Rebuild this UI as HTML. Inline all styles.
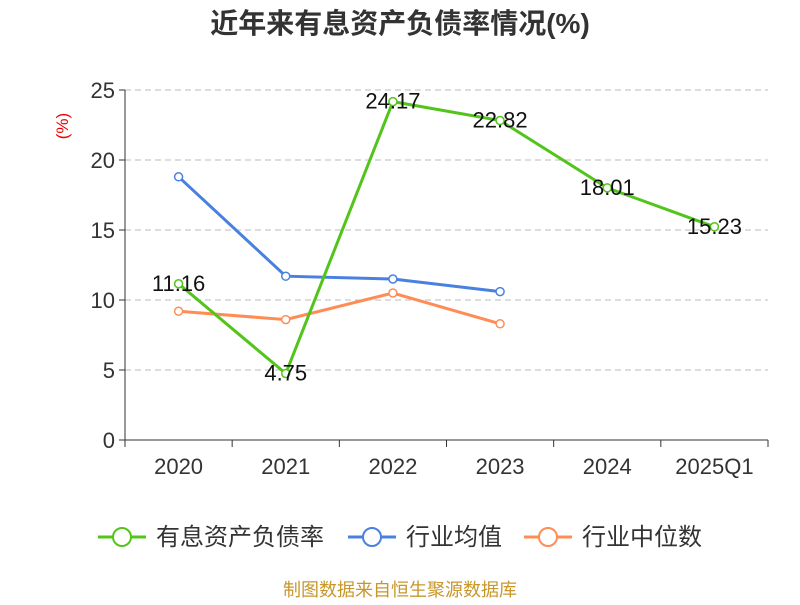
<!DOCTYPE html>
<html><head><meta charset="utf-8"><style>
body{margin:0;background:#fff;font-family:"Liberation Sans","Noto Sans CJK SC",sans-serif}
</style></head><body>
<svg width="800" height="600" xmlns="http://www.w3.org/2000/svg" font-family="Liberation Sans, Noto Sans CJK SC, sans-serif">
<text x="400" y="33" text-anchor="middle" font-size="28" font-weight="bold" fill="#333">近年来有息资产负债率情况(%)</text>
<text x="68" y="126" text-anchor="middle" font-size="17" fill="#e00" transform="rotate(-90 68 126)">(%)</text>
<g id="grid"></g><g id="axes"></g><g id="series"></g>
<g font-size="24" fill="#333">
<g><line x1="98" y1="537" x2="146" y2="537" stroke="#52c41a" stroke-width="3"/><circle cx="122" cy="537" r="9" fill="#fff" stroke="#52c41a" stroke-width="2"/><text x="156" y="545">有息资产负债率</text></g>
<g><line x1="348" y1="537" x2="396" y2="537" stroke="#4a80e0" stroke-width="3"/><circle cx="372" cy="537" r="9" fill="#fff" stroke="#4a80e0" stroke-width="2"/><text x="406" y="545">行业均值</text></g>
<g><line x1="524" y1="537" x2="572" y2="537" stroke="#ff8c55" stroke-width="3"/><circle cx="548" cy="537" r="9" fill="#fff" stroke="#ff8c55" stroke-width="2"/><text x="582" y="545">行业中位数</text></g>
</g>
<text x="400" y="596" text-anchor="middle" font-size="18" fill="#c8962a">制图数据来自恒生聚源数据库</text>
</svg>
<script>
const categories=["2020","2021","2022","2023","2024","2025Q1"];
const debtRatio=[11.16,4.75,24.17,22.82,18.01,15.23];
const industryAvg=[18.8,11.7,11.5,10.6,null,null];
const industryMedian=[9.2,8.6,10.5,8.3,null,null];
const yTicks=[0,5,10,15,20,25];
const NS="http://www.w3.org/2000/svg";
const x0=125,x1=768,y0=440,y1=90,yMax=25;
const bw=(x1-x0)/categories.length;
const xs=i=>x0+bw*(i+0.5);
const ys=v=>y0-(v/yMax)*(y0-y1);
function mk(t,a,p){const e=document.createElementNS(NS,t);for(const k in a)e.setAttribute(k,a[k]);p.appendChild(e);return e;}
const grid=document.getElementById('grid'),axes=document.getElementById('axes'),ser=document.getElementById('series');
yTicks.forEach(v=>{
 if(v>0){const g=mk('line',{x1:x0,x2:x1,y1:ys(v),y2:ys(v),stroke:'#bbb','stroke-dasharray':'6,4'},grid);
 
 }
 const tk=mk('line',{x1:x0-6,x2:x0,y1:ys(v),y2:ys(v),stroke:'#333'},axes);
 
 
 const t=mk('text',{x:x0-10,y:ys(v)+8,'text-anchor':'end','font-size':22,fill:'#333'},axes);t.textContent=v;
 
 
});
const ya=mk('line',{x1:x0,x2:x0,y1:y1,y2:y0,stroke:'#333'},axes);


const xa=mk('line',{x1:x0,x2:x1,y1:y0,y2:y0,stroke:'#333'},axes);


for(let i=0;i<=categories.length;i++){const l=mk('line',{x1:x0+bw*i,x2:x0+bw*i,y1:y0,y2:y0+7,stroke:'#333'},axes);
 
 }
categories.forEach((c,i)=>{const t=mk('text',{x:xs(i),y:y0+34,'text-anchor':'middle','font-size':22,fill:'#333'},axes);t.textContent=c;
 
 });
function draw(arr,color,name,labels){
 const pts=arr.map((v,i)=>v==null?null:[xs(i),ys(v)]).filter(p=>p);
 const pl=mk('polyline',{points:pts.map(p=>p.join(',')).join(' '),fill:'none',stroke:color,'stroke-width':3},ser);
 
 
 arr.forEach((v,i)=>{if(v==null)return;
  const c=mk('circle',{cx:xs(i),cy:ys(v),r:4,fill:'#fff',stroke:color,'stroke-width':1.5},ser);
  
  
  if(labels){const t=mk('text',{x:xs(i),y:ys(v)+7,'text-anchor':'middle','font-size':22,fill:'#111'},ser);t.textContent=v.toFixed(2);
  
  }
 });
}
draw(industryAvg,'#4a80e0','industry-avg',false);
draw(industryMedian,'#ff8c55','industry-median',false);
draw(debtRatio,'#52c41a','debt-ratio',true);
</script>
</body></html>
